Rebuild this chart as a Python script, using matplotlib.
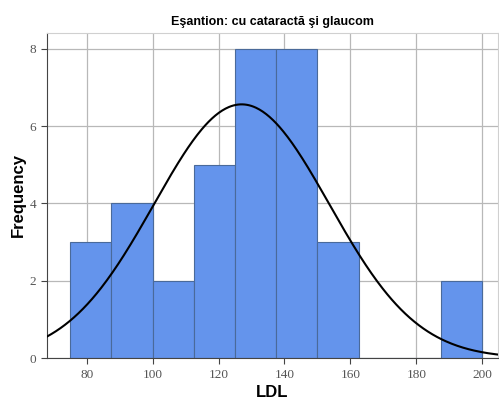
import numpy as np
import matplotlib.pyplot as plt

bin_edges = [75, 87.5, 100, 112.5, 125, 137.5, 150, 162.5, 175, 187.5, 200]
counts = [3, 4, 2, 5, 8, 8, 3, 0, 0, 2]
mean_ldl = 127.0
sd_ldl = 26.6
n_total = sum(counts)

xticks = [80, 100, 120, 140, 160, 180, 200]
yticks = [0, 2, 4, 6, 8]

fig = plt.figure(figsize=(4.99, 4.01), dpi=100)
ax = fig.add_axes([0.094, 0.107, 0.904, 0.811])

lefts = bin_edges[:-1]
widths = np.diff(bin_edges)
ax.bar(lefts, counts, width=widths, align='edge', color='#6494EC',
       edgecolor='#4A6A9A', linewidth=0.8, zorder=2)

xs = np.linspace(67.9, 204.8, 400)
bw = widths[0]
ys = n_total * bw / (sd_ldl * np.sqrt(2 * np.pi)) * np.exp(-0.5 * ((xs - mean_ldl) / sd_ldl) ** 2)
ax.plot(xs, ys, color='black', lw=1.5, zorder=3)

ax.set_xlim(67.9, 204.8)
ax.set_ylim(0, 8.41)
ax.set_xticks(xticks)
ax.set_yticks(yticks)
ax.grid(True, color='#B8B8B8', lw=0.9, zorder=0)
ax.set_axisbelow(True)

for s in ['top', 'right']:
    ax.spines[s].set_color('#D0D0D0')
for s in ['left', 'bottom']:
    ax.spines[s].set_color('#444444')

ax.tick_params(direction='out', length=4, color='#444444', labelcolor='#555555',
               labelsize=9.5)
for lab in ax.get_xticklabels() + ax.get_yticklabels():
    lab.set_family('Liberation Serif')

ax.set_title('Eşantion: cu cataractă şi glaucom', fontsize=9, fontweight='bold',
             family='Liberation Sans', pad=6)
ax.set_ylabel('Frequency', fontsize=12, fontweight='bold', family='Liberation Sans',
              labelpad=3)
ax.set_xlabel('LDL', fontsize=12, fontweight='bold', family='Liberation Sans',
              labelpad=3)

fig.savefig('out.png', dpi=100)
